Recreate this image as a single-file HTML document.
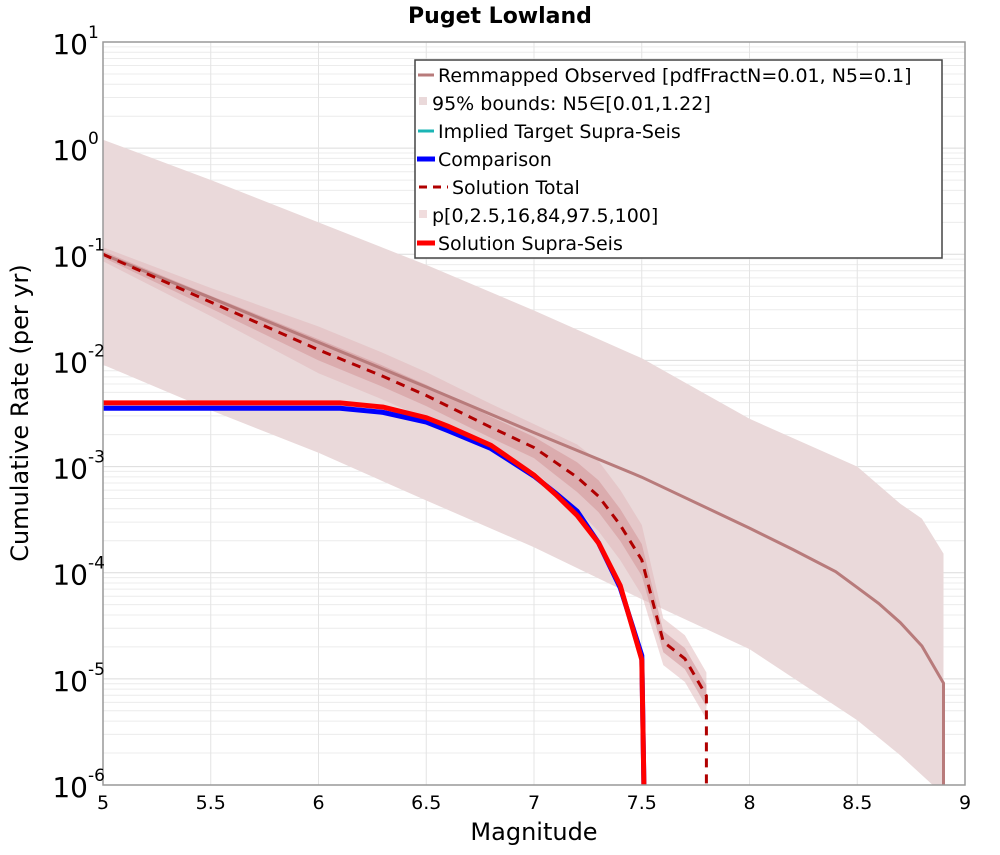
<!DOCTYPE html>
<html><head><meta charset="utf-8"><style>
body{margin:0;background:#fff;}
svg text{font-family:"DejaVu Sans","Liberation Sans",sans-serif;}
</style></head><body>
<svg id="chart" width="1000" height="850" viewBox="0 0 1000 850" xmlns="http://www.w3.org/2000/svg">
<g id="grid"></g>
<g id="marks"></g>
<rect x="103" y="42" width="862" height="743" fill="none" stroke="#999" stroke-width="1.5"/>
<g id="axes"></g>
<text x="500" y="23" text-anchor="middle" font-size="22" font-weight="bold">Puget Lowland</text>
<text x="534" y="840" text-anchor="middle" font-size="24">Magnitude</text>
<text transform="translate(28,413) rotate(-90)" text-anchor="middle" font-size="24">Cumulative Rate (per yr)</text>
<g>
<rect x="415" y="60" width="527" height="198" fill="#fff" stroke="#444" stroke-width="1.5"/>
<line x1="418" y1="75" x2="434" y2="75" stroke="#b87b7b" stroke-width="3"/>
<text x="438" y="82" font-size="19">Remmapped Observed [pdfFractN=0.01, N5=0.1]</text>
<rect x="419" y="97" width="8" height="8" fill="#ead9da"/>
<text x="432" y="110" font-size="19">95% bounds: N5∈[0.01,1.22]</text>
<line x1="418" y1="131" x2="434" y2="131" stroke="#1bb5b5" stroke-width="3"/>
<text x="438" y="138" font-size="19">Implied Target Supra-Seis</text>
<line x1="417" y1="159" x2="435" y2="159" stroke="#0000ff" stroke-width="5"/>
<text x="438" y="166" font-size="19">Comparison</text>
<line x1="419" y1="187" x2="448" y2="187" stroke="#b00000" stroke-width="3" stroke-dasharray="8,6"/>
<text x="452" y="194" font-size="19">Solution Total</text>
<rect x="419" y="210" width="8" height="8" fill="#f0dcdd"/>
<text x="432" y="222" font-size="19">p[0,2.5,16,84,97.5,100]</text>
<line x1="417" y1="243" x2="435" y2="243" stroke="#ff0000" stroke-width="5"/>
<text x="438" y="250" font-size="19">Solution Supra-Seis</text>
</g>
</svg>
<script>
// log10 values
const obsM = [5,5.5,6,6.5,7,7.5,8,8.2,8.4,8.5,8.6,8.7,8.8,8.9,8.9];
const obsV = [-1.0,-1.41,-1.83,-2.25,-2.68,-3.1,-3.58,-3.78,-3.99,-4.14,-4.29,-4.47,-4.69,-5.04,-6.1];
const bandM = [5,5.5,6,6.5,7,7.5,8,8.5,8.7,8.8,8.9];
const bandHi = [0.08,-0.3,-0.7,-1.1,-1.53,-1.98,-2.55,-3.0,-3.35,-3.49,-3.82];
const bandLoM = [5,5.5,6,6.5,7,7.5,8,8.5,8.7,8.85];
const bandLo = [-2.04,-2.47,-2.87,-3.32,-3.76,-4.25,-4.72,-5.39,-5.72,-6.0];
const supM = [5,6.1,6.3,6.5,6.6,6.8,7.0,7.1,7.2,7.3,7.4,7.5,7.51];
const supV = [-2.40,-2.40,-2.44,-2.54,-2.62,-2.80,-3.08,-3.26,-3.46,-3.72,-4.12,-4.82,-6.1];
const cmpV = [-2.45,-2.45,-2.49,-2.58,-2.66,-2.83,-3.09,-3.25,-3.42,-3.72,-4.14,-4.78,-6.1];
const totM = [5,5.5,6,6.3,6.5,6.6,6.8,7.0,7.1,7.2,7.3,7.4,7.5,7.6,7.7,7.8,7.8];
const totV = [-1.0,-1.45,-1.9,-2.15,-2.33,-2.43,-2.63,-2.82,-2.96,-3.1,-3.28,-3.55,-3.88,-4.65,-4.81,-5.16,-6.1];
const totSpread = [0.03,0.06,0.1,0.1,0.1,0.1,0.1,0.1,0.12,0.14,0.15,0.15,0.15,0.1,0.1,0.1,0];
const xTicks = [5,5.5,6,6.5,7,7.5,8,8.5,9];
const xTickLabels = ["5","5.5","6","6.5","7","7.5","8","8.5","9"];
const yDecades = [1,0,-1,-2,-3,-4,-5,-6];

const NS="http://www.w3.org/2000/svg";
const X0=103,X1=965,Y0=42,Y1=785;
function sx(m){return X0+(m-5)/4*(X1-X0);}
function sy(l){return Y0+(1-l)/7*(Y1-Y0);}
function cy(l){return Math.min(Y1,Math.max(Y0,sy(l)));}
function mk(tag,parent,attrs){const e=document.createElementNS(NS,tag);for(const k in attrs)e.setAttribute(k,attrs[k]);parent.appendChild(e);return e;}
const grid=document.getElementById('grid'),marks=document.getElementById('marks'),axes=document.getElementById('axes');
for(let d=-6;d<1;d++){for(let k=2;k<=9;k++){const l=d+Math.log10(k);
 const e=mk('line',grid,{x1:X0,x2:X1,y1:sy(l),y2:sy(l),stroke:'#ececec','stroke-width':1});
 
 }}
yDecades.forEach(d=>{const e=mk('line',grid,{x1:X0,x2:X1,y1:sy(d),y2:sy(d),stroke:'#dcdcdc','stroke-width':1});
 
 
 const t=mk('text',axes,{x:88,y:sy(d)+12,'text-anchor':'end','font-size':28});
 
 
 t.textContent='10';
 const s=mk('text',axes,{x:88,y:sy(d)-4,'text-anchor':'start','font-size':17});
 
 
 s.textContent=String(d);});
xTicks.forEach((m,i)=>{const e=mk('line',grid,{x1:sx(m),x2:sx(m),y1:Y0,y2:Y1,stroke:'#e4e4e4','stroke-width':1});
 
 
 const t=mk('text',axes,{x:sx(m),y:809,'text-anchor':'middle','font-size':19});
 
 
 t.textContent=xTickLabels[i];});
function pts(M,V){return M.map((m,i)=>sx(m).toFixed(1)+','+cy(V[i]).toFixed(1)).join(' ');}
let bp=pts(bandM,bandHi)+' '+sx(8.9)+','+Y1+' '+pts(bandLoM.slice().reverse(),bandLo.slice().reverse());
const band=mk('polygon',marks,{points:bp,fill:'#ead9da'});


[[2.2,'#e0b5b7',0.5],[1.0,'#d49a9c',0.6]].forEach(([f,c,o])=>{
 const up=totM.map((m,i)=>sx(m).toFixed(1)+','+cy(totV[i]+totSpread[i]*f).toFixed(1));
 const dn=totM.map((m,i)=>sx(m).toFixed(1)+','+cy(totV[i]-totSpread[i]*f).toFixed(1)).reverse();
 const p=mk('polygon',marks,{points:up.concat(dn).join(' '),fill:c,'fill-opacity':o});
 
 });
const obs=mk('polyline',marks,{points:pts(obsM,obsV),fill:'none',stroke:'#b87b7b','stroke-width':3});


const cmp=mk('polyline',marks,{points:pts(supM,cmpV),fill:'none',stroke:'#0000ff','stroke-width':5});


const imp=mk('polyline',marks,{points:pts(supM,supV),fill:'none',stroke:'#1bb5b5','stroke-width':2});


const sup=mk('polyline',marks,{points:pts(supM,supV),fill:'none',stroke:'#ff0000','stroke-width':5});


const tot=mk('polyline',marks,{points:pts(totM,totV),fill:'none',stroke:'#b00000','stroke-width':3,'stroke-dasharray':'9,7'});


</script>
</body></html>
